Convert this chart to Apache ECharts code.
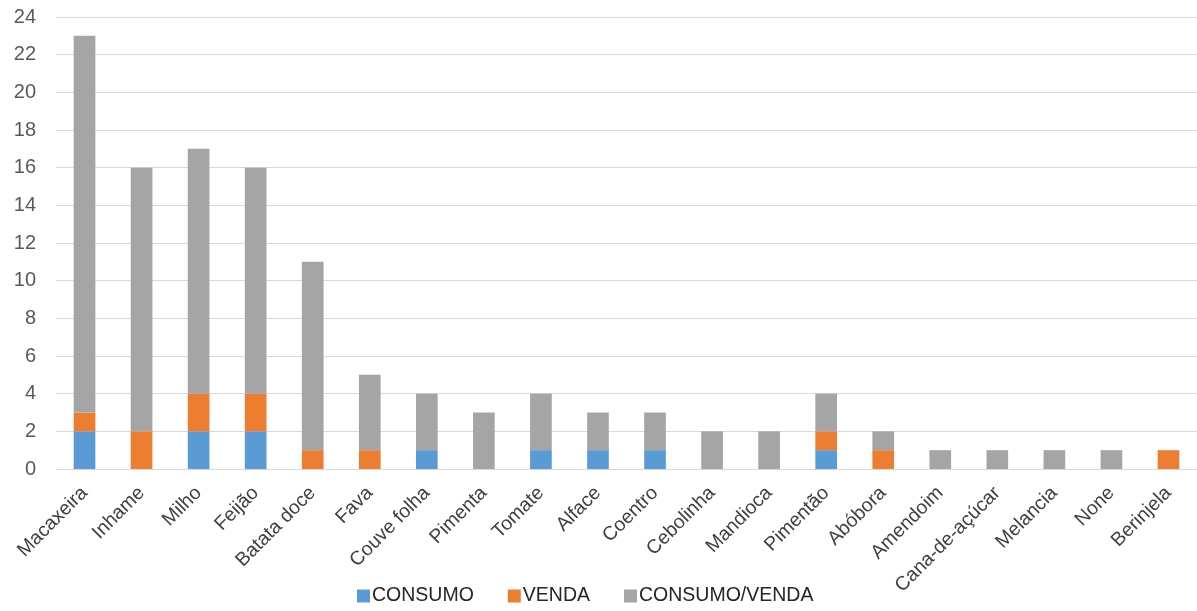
<!DOCTYPE html>
<html>
<head>
<meta charset="utf-8">
<script src="https://cdn.jsdelivr.net/npm/echarts@6/dist/echarts.min.js"></script>
<style>
html,body{margin:0;padding:0;background:#fff;}
#chart{width:1197px;height:611px;}
</style>
</head>
<body>
<div id="chart"></div>
<script>
// Crops and how they are used
const categories = ['Macaxeira','Inhame','Milho','Feijão','Batata doce','Fava','Couve folha','Pimenta','Tomate','Alface','Coentro','Cebolinha','Mandioca','Pimentão','Abóbora','Amendoim','Cana-de-açúcar','Melancia','None','Berinjela'];
const consumo      = [2,0,2,2,0,0,1,0,1,1,1,0,0,1,0,0,0,0,0,0];
const venda        = [1,2,2,2,1,1,0,0,0,0,0,0,0,1,1,0,0,0,0,1];
const consumoVenda = [20,14,13,12,10,4,3,3,3,2,2,2,2,2,1,1,1,1,1,0];
const yTicks = [0,2,4,6,8,10,12,14,16,18,20,22,24];

const font = 'Liberation Sans, Arial, sans-serif';
const chart = echarts.init(document.getElementById('chart'));

function bar(name, data, color) {
  return {
    name: name,
    type: 'bar',
    stack: 'total',
    barWidth: '38%',
    data: data,
    itemStyle: { color: color },
    emphasis: { disabled: true }
  };
}

chart.setOption({
  animation: false,
  textStyle: { fontFamily: font },
  grid: { left: 56, right: 0, top: 17, bottom: 142, containLabel: false },
  legend: {
    top: 586,
    left: 357,
    padding: 0,
    itemWidth: 13,
    itemHeight: 13,
    itemGap: 34,
    icon: 'rect',
    textStyle: { fontFamily: font, fontSize: 19.5, color: '#262626', padding: [0, 0, 0, -3] },
    data: ['CONSUMO','VENDA','CONSUMO/VENDA']
  },
  xAxis: {
    type: 'category',
    data: categories,
    axisLine: { lineStyle: { color: '#d9d9d9', width: 1 } },
    axisTick: { show: false },
    axisLabel: {
      rotate: 45,
      interval: 0,
      margin: 21,
      fontFamily: font,
      fontSize: 19.5,
      color: '#404040'
    }
  },
  yAxis: {
    type: 'value',
    min: yTicks[0],
    max: yTicks[yTicks.length - 1],
    interval: 2,
    axisLine: { show: false },
    axisTick: { show: false },
    splitLine: { lineStyle: { color: '#d9d9d9', width: 1 } },
    axisLabel: { fontFamily: font, fontSize: 20, color: '#595959', margin: 20 }
  },
  series: [
    bar('CONSUMO', consumo, '#5b9bd5'),
    bar('VENDA', venda, '#ed7d31'),
    bar('CONSUMO/VENDA', consumoVenda, '#a5a5a5')
  ]
});
</script>
</body>
</html>
